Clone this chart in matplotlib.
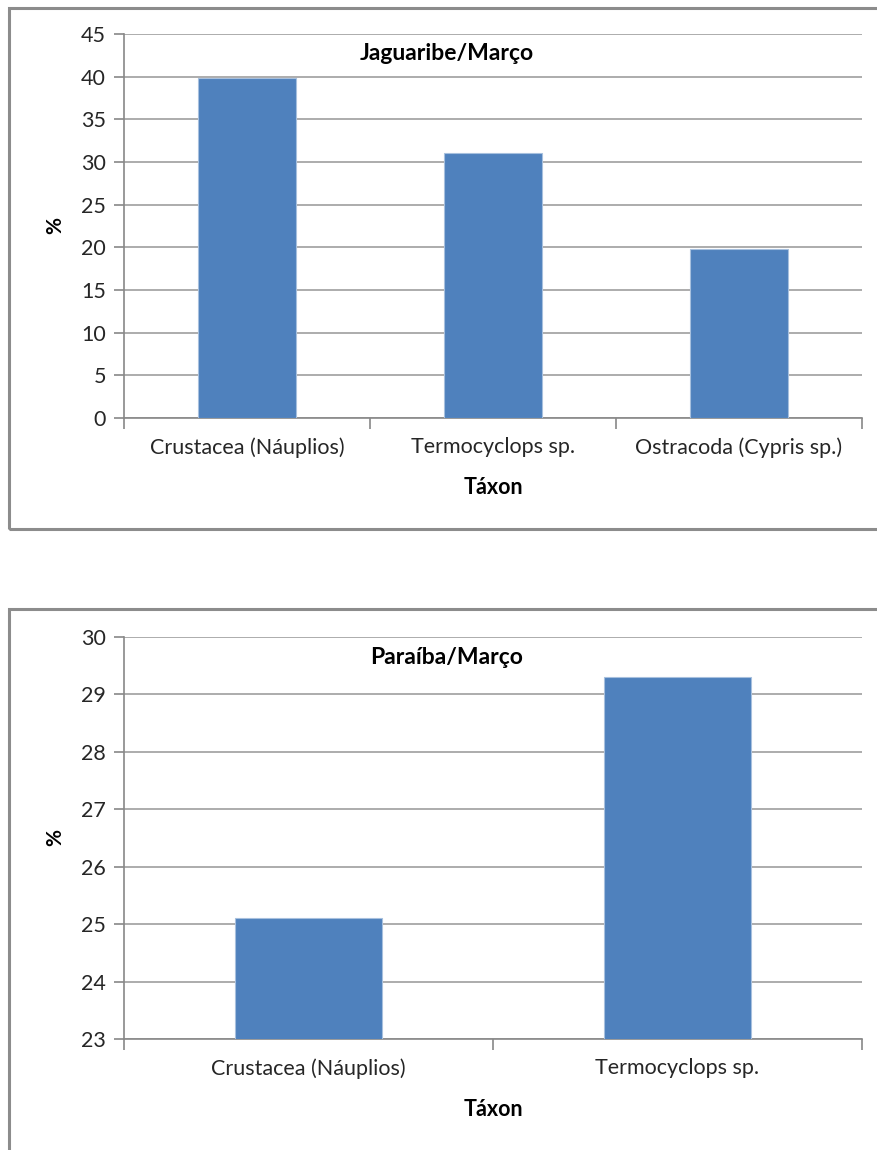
import matplotlib
matplotlib.use('Agg')
import matplotlib.pyplot as plt
from matplotlib.patches import Rectangle
import numpy as np

plt.rcParams['font.family'] = ['Lato', 'DejaVu Sans']

# data
taxa_jag = ['Crustacea (Náuplios)', 'Termocyclops sp.', 'Ostracoda (Cypris sp.)']
pct_jag = [39.8, 31.1, 19.8]
taxa_par = ['Crustacea (Náuplios)', 'Termocyclops sp.']
pct_par = [25.1, 29.3]

W, H = 877, 1150
fig = plt.figure(figsize=(W / 100, H / 100), dpi=100)

bar_col = '#4F81BD'
grid_col = '#A6A6A6'
axis_col = '#888888'


def px(l, t, r, b):
    # pixel box -> figure fractions
    return [l / W, 1 - b / H, (r - l) / W, (b - t) / H]


def frame(t, b):
    fig.patches.append(Rectangle((8.5 / W, 1 - b / H), 1.0, (b - t) / H,
                                 transform=fig.transFigure, fill=False,
                                 edgecolor='#8C8C8C', linewidth=2.2))


def chart(box, taxa, vals, ylim, step, title, title_y, xlab_y):
    ax = fig.add_axes(px(*box))
    n = len(taxa)
    x = np.arange(n)
    ax.bar(x, vals, width=0.4, color=bar_col, edgecolor='#A7C0DE',
           linewidth=0.8, zorder=3)
    ax.set_xlim(-0.5, n - 0.5)
    ax.set_ylim(*ylim)
    ax.set_yticks(np.arange(ylim[0], ylim[1] + 0.1, step))
    ax.yaxis.grid(True, color=grid_col, linewidth=1.3, zorder=0)
    ax.set_axisbelow(True)
    for s in ['top', 'right']:
        ax.spines[s].set_visible(False)
    for s in ['left', 'bottom']:
        ax.spines[s].set_color(axis_col)
        ax.spines[s].set_linewidth(1.2)
    ax.set_xticks(np.arange(-0.5, n, 1.0))
    ax.set_xticklabels([])
    ax.set_xticks(x, minor=True)
    ax.set_xticklabels(taxa, minor=True, fontsize=15.5, color='#262626')
    ax.tick_params(axis='x', which='major', length=8, width=1.2, color=axis_col)
    ax.tick_params(axis='x', which='minor', length=0, pad=14)
    ax.tick_params(axis='y', length=7, width=1.2, color=axis_col,
                   labelsize=15.5, labelcolor='#262626', pad=6)
    fig.text(55 / W, 1 - ((box[1] + box[3]) / 2) / H, '%', rotation=90,
             fontsize=15, fontweight='bold', ha='center', va='center')
    fig.text(493 / W, 1 - xlab_y / H, 'Táxon', fontsize=15.5,
             fontweight='bold', ha='center', va='center')
    fig.text(447 / W, 1 - title_y / H, title, fontsize=16.5,
             fontweight='bold', ha='center', va='center')
    return ax


frame(8, 529)
frame(609, 1160)

chart((124, 34, 862, 418), taxa_jag, pct_jag, (0, 45), 5,
      'Jaguaribe/Março', 53, 488)
chart((124, 637, 862, 1039), taxa_par, pct_par, (23, 30), 1,
      'Paraíba/Março', 657, 1110)

fig.savefig('out.png', dpi=100)
